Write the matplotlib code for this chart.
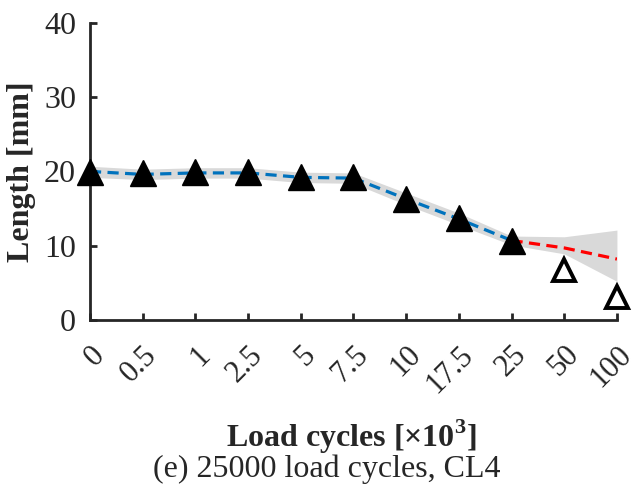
import matplotlib
matplotlib.use("Agg")
import matplotlib.pyplot as plt
from matplotlib.transforms import ScaledTranslation

tick_labels = ["0", "0.5", "1", "2.5", "5", "7.5", "10", "17.5", "25", "50", "100"]
measured = [19.9, 19.8, 19.9, 19.9, 19.3, 19.3, 16.3, 13.7, 10.6]
predicted_meas = [6.7, 3.1]
fit_line = [20.0, 19.6, 19.8, 19.8, 19.2, 19.1, 16.3, 13.6, 10.7, 9.7, 8.2]
band_upper = [20.7, 20.3, 20.5, 20.5, 19.9, 19.8, 17.1, 14.4, 11.3, 11.2, 12.1]
band_lower = [19.2, 18.9, 19.1, 19.1, 18.5, 18.4, 15.5, 12.8, 10.1, 8.9, 5.2]
n_fit = 9

plt.rcParams['font.family'] = ['Liberation Serif', 'DejaVu Serif']
plt.rcParams['mathtext.fontset'] = 'custom'
plt.rcParams['mathtext.rm'] = 'Liberation Serif'
plt.rcParams['mathtext.bf'] = 'Liberation Serif:bold'

FS = 23
AX = [0.141, 0.343, 0.826, 0.610]
fig = plt.figure(figsize=(6.38, 4.87), dpi=100)
ax = fig.add_axes(AX)

x = list(range(len(tick_labels)))
ax.fill_between(x, band_lower, band_upper, color='#d9d9d9', lw=0, zorder=1)
ax.plot(x[:n_fit], fit_line[:n_fit], color='#0072BD', lw=2.3, ls=(0, (3.5, 2)), zorder=2)
ax.plot(x[n_fit-1:], fit_line[n_fit-1:], color='#FF0000', lw=2.3, ls=(0, (3.5, 2)), zorder=2)
ax.plot(x[:n_fit], measured, ls='none', marker='^', ms=19, mfc='black', mec='black', zorder=3, clip_on=False)
ax.plot(x[n_fit:], predicted_meas, ls='none', marker='^', ms=16, mfc='white', mec='black', mew=2.8, zorder=3, clip_on=False)

ax.set_xlim(0, 10)
ax.set_ylim(0, 40)
ax.set_xticks(x)
ax.set_xticklabels(tick_labels, rotation=45, rotation_mode='anchor', ha='right', va='center', fontsize=22)
ax.set_yticks([0, 10, 20, 30, 40])
for s in ['top', 'right']:
    ax.spines[s].set_visible(False)
for s in ['left', 'bottom']:
    ax.spines[s].set_linewidth(2)
    ax.spines[s].set_color('#262626')
ax.tick_params(direction='in', length=5, width=2, color='#262626', labelcolor='#262626')
ax.tick_params(axis='x', pad=22)
ax.tick_params(axis='y', pad=10, labelsize=FS)
shift = ScaledTranslation(0.10, 0, fig.dpi_scale_trans)
for lbl in ax.get_xticklabels():
    lbl.set_transform(lbl.get_transform() + shift)

ax.set_ylabel('Length [mm]', fontsize=FS, fontweight='bold', color='#262626', labelpad=6)
ax.set_xlabel(r'Load cycles [×10$^\mathbf{3}$]', fontsize=FS, fontweight='bold', color='#262626', va='baseline')
ax.xaxis.set_label_coords((0.551 - AX[0]) / AX[2], (0.082 - AX[1]) / AX[3])
fig.text(0.512, 0.0205, '(e) 25000 load cycles, CL4', fontsize=FS, ha='center', va='baseline', color='#262626')

fig.savefig('out.png', dpi=100)
